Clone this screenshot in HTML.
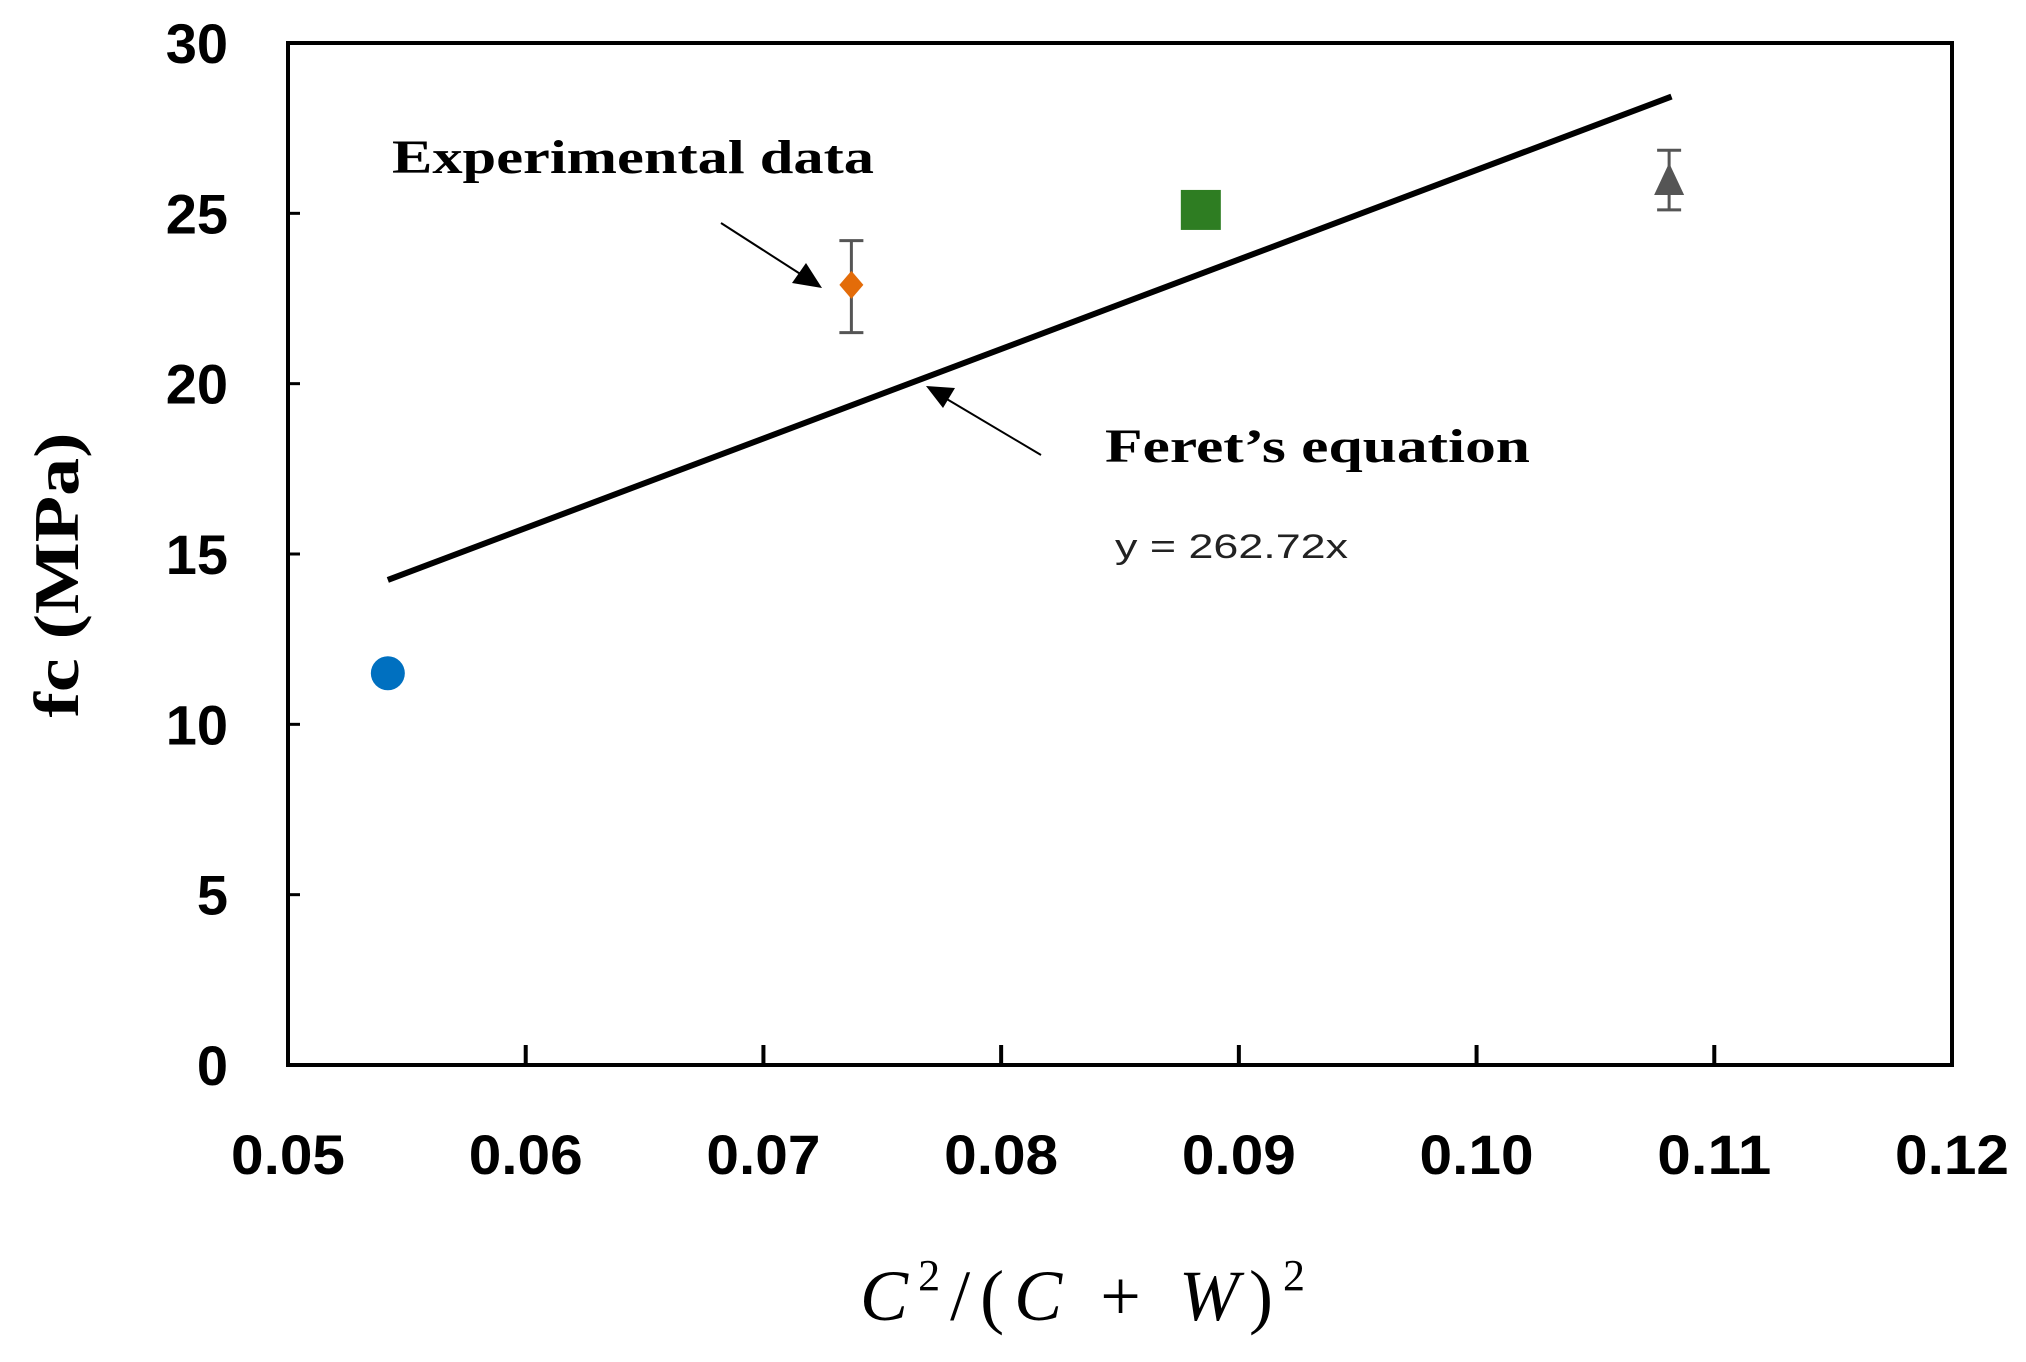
<!DOCTYPE html>
<html><head><meta charset="utf-8"><style>
html,body{margin:0;padding:0;background:#fff;}
svg{display:block;}
</style></head><body>
<svg id="chart" width="2026" height="1362" viewBox="0 0 2026 1362" xmlns="http://www.w3.org/2000/svg">
<rect x="0" y="0" width="2026" height="1362" fill="#fff"/>
<g id="ticks"></g>
<g id="marks"></g>
<rect x="288" y="43" width="1664" height="1022" fill="none" stroke="#000" stroke-width="4"/>
<text transform="translate(78,575) rotate(-90)" text-anchor="middle" font-family="Liberation Serif, serif" font-weight="bold" font-size="64" textLength="285" lengthAdjust="spacingAndGlyphs">fc (MPa)</text>
<text x="860" y="1320" font-family="Liberation Serif, serif" font-style="italic" font-size="72" textLength="445" lengthAdjust="spacing">C<tspan font-style="normal" font-size="44" dy="-30">2</tspan><tspan font-style="normal" dy="30">/(</tspan>C<tspan font-style="normal"> + </tspan>W<tspan font-style="normal">)</tspan><tspan font-style="normal" font-size="44" dy="-30">2</tspan></text>
<text x="392" y="173" font-family="Liberation Serif, serif" font-weight="bold" font-size="48" textLength="482" lengthAdjust="spacingAndGlyphs">Experimental data</text>
<text x="1105" y="462" font-family="Liberation Serif, serif" font-weight="bold" font-size="48" textLength="425" lengthAdjust="spacingAndGlyphs">Feret’s equation</text>
<text x="1115" y="558" font-family="Liberation Sans, sans-serif" font-size="34" fill="#222" textLength="233" lengthAdjust="spacingAndGlyphs">y = 262.72x</text>
<line x1="721" y1="223" x2="805" y2="277" stroke="#000" stroke-width="2"/>
<polygon points="822,288 792,283 806,263" fill="#000"/>
<line x1="1041" y1="455" x2="940" y2="395" stroke="#000" stroke-width="2"/>
<polygon points="926,386 955,388 943,408" fill="#000"/>
<script>
const xTicks=[0.05,0.06,0.07,0.08,0.09,0.10,0.11,0.12];
const xTickLabels=["0.05","0.06","0.07","0.08","0.09","0.10","0.11","0.12"];
const yTicks=[0,5,10,15,20,25,30];
const yTickLabels=["0","5","10","15","20","25","30"];
const seriesNames=["circle","diamond","square","triangle"];
const seriesX=[0.0542,0.0737,0.0884,0.1081];
const seriesY=[11.5,22.9,25.1,25.95];
const errLow=[null,21.5,null,25.1];
const errHigh=[null,24.2,null,26.85];
const seriesColors=["#0070c0","#e36c09","#2e7d22","#555555"];
const fitSlope=262.72;
const fitRange=[0.0542,0.1082];
const NS="http://www.w3.org/2000/svg";
function sx(v){return 288+(v-0.05)/0.07*1664;}
function sy(v){return 1065-v/30*1022;}
function mk(tag,attrs,parent){const e=document.createElementNS(NS,tag);for(const k in attrs)e.setAttribute(k,attrs[k]);parent.appendChild(e);return e;}
const tg=document.getElementById('ticks'),mg=document.getElementById('marks');
xTicks.forEach((t,i)=>{
 const l=mk('line',{x1:sx(t),x2:sx(t),y1:1065,y2:1045,stroke:'#000','stroke-width':4},tg);
 
 
 const tx=mk('text',{x:sx(t),y:1174,'text-anchor':'middle','font-family':'Liberation Sans, sans-serif','font-weight':'bold','font-size':56,textLength:114,lengthAdjust:'spacingAndGlyphs'},tg);
 tx.textContent=xTickLabels[i];
 
 
});
yTicks.forEach((t,i)=>{
 const l=mk('line',{x1:288,x2:300,y1:sy(t),y2:sy(t),stroke:'#000','stroke-width':3},tg);
 
 
 const tx=mk('text',{x:228,y:sy(t)+20,'text-anchor':'end','font-family':'Liberation Sans, sans-serif','font-weight':'bold','font-size':56},tg);
 tx.textContent=yTickLabels[i];
 
 
});
const fit=mk('line',{x1:sx(fitRange[0]),y1:sy(fitRange[0]*fitSlope),x2:sx(fitRange[1]),y2:sy(fitRange[1]*fitSlope),stroke:'#000','stroke-width':6},mg);


seriesX.forEach((xv,i)=>{
 const cx=sx(xv),cy=sy(seriesY[i]),c=seriesColors[i];
 if(errLow[i]!==null){
  const g=mk('g',{stroke:'#555','stroke-width':3},mg);
  
  
  mk('line',{x1:cx,x2:cx,y1:sy(errLow[i]),y2:sy(errHigh[i])},g);
  mk('line',{x1:cx-12,x2:cx+12,y1:sy(errLow[i]),y2:sy(errLow[i])},g);
  mk('line',{x1:cx-12,x2:cx+12,y1:sy(errHigh[i]),y2:sy(errHigh[i])},g);
 }
 let m;
 if(seriesNames[i]==='circle') m=mk('circle',{cx:cx,cy:cy,r:17,fill:c},mg);
 else if(seriesNames[i]==='diamond') m=mk('polygon',{points:`${cx},${cy-14} ${cx+12},${cy} ${cx},${cy+14} ${cx-12},${cy}`,fill:c},mg);
 else if(seriesNames[i]==='square') m=mk('rect',{x:cx-20,y:cy-20,width:40,height:40,fill:c},mg);
 else m=mk('polygon',{points:`${cx},${cy-18} ${cx+15},${cy+14} ${cx-15},${cy+14}`,fill:c},mg);
 
 
});
</script>
</svg>
</body></html>
